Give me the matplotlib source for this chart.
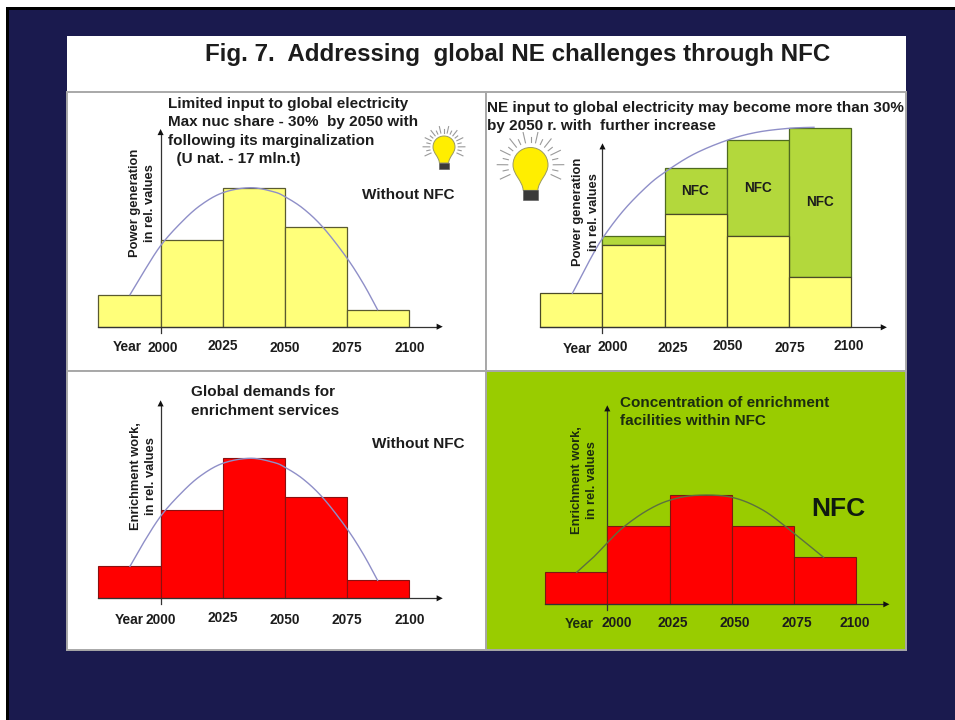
import numpy as np
import matplotlib
matplotlib.use("Agg")
import matplotlib.pyplot as plt
from matplotlib.patches import Rectangle, PathPatch, FancyArrowPatch
from matplotlib.path import Path
from matplotlib.transforms import Affine2D

plt.rcParams['font.family'] = ['Liberation Sans', 'DejaVu Sans']

# ---- data (relative values per 25-year period) ----
period_starts = [1975, 2000, 2025, 2050, 2075]
year_ticks = [2000, 2025, 2050, 2075, 2100]

power_without_nfc = [32, 87, 139, 100, 17]
power_base = [34, 82, 113, 91, 50]
power_total = [34, 91, 159, 187, 199]
enrich_without_nfc = [32, 88, 140, 101, 18]
enrich_nfc = [32, 78, 109, 78, 47]

trend1_years = [1987.7, 1993, 2000, 2007.8, 2015.8, 2025, 2036, 2045.3, 2050, 2057.4, 2065.4, 2074.8, 2081.5, 2087.2]
trend1_vals = [32, 54, 81, 103, 121, 134, 139, 135, 130, 118, 99, 69, 43, 17]
trend2_years = [1987.9, 1994.4, 2000, 2008.5, 2017.9, 2025, 2036.6, 2050, 2062, 2075, 2085]
trend2_vals = [34, 65, 89, 117, 141, 155, 173, 187, 195, 199, 200]
trend3_years = [1987.7, 1993, 2000, 2007.8, 2015.8, 2025, 2036, 2045.3, 2050, 2057.4, 2065.4, 2074.8, 2081.5, 2087.2]
trend3_vals = [32, 55, 82, 104, 122, 135, 140, 136, 131, 119, 100, 70, 44, 18]
trend4_years = [1987.7, 1994.4, 2000, 2006.4, 2015.8, 2025, 2036, 2050, 2062.7, 2075, 2086.9]
trend4_vals = [32, 47, 61.5, 77, 93.5, 104, 109, 107, 94, 71, 47]

W, H = 955, 720
NAVY, BLACK = '#1a1a4e', '#000000'
YELLOW, LEAF, RED, FIELD = '#ffff7a', '#b3d83c', '#ff0000', '#99cc00'
TEXT = '#1c1c1c'

fig = plt.figure(figsize=(W / 100, H / 100), dpi=100, facecolor='white')
# top-down pixel coordinates for the slide furniture
px = Affine2D().scale(1 / W, -1 / H).translate(0, 1) + fig.transFigure


def smooth(xs, ys, n=24):
    """Catmull-Rom pass through the given points, for a soft drawn curve."""
    p = np.column_stack([xs, ys]).astype(float)
    p = np.vstack([p[0], p, p[-1]])
    out = []
    for i in range(1, len(p) - 2):
        t = np.linspace(0, 1, n, endpoint=False)[:, None]
        a, b, c, d = p[i - 1], p[i], p[i + 1], p[i + 2]
        out.append(0.5 * (2 * b + (c - a) * t + (2 * a - 5 * b + 4 * c - d) * t ** 2
                          + (3 * b - a - 3 * c + d) * t ** 3))
    out.append(p[-2][None, :])
    return np.vstack(out)


def slide_rect(x0, y0, x1, y1, **kw):
    fig.add_artist(Rectangle((x0, y0), x1 - x0, y1 - y0, transform=px, zorder=-5, **kw))


def bulb(cx, cy, r):
    """Light bulb with a crown of rays, centred on the glass."""
    for k, a in enumerate(np.linspace(-205, 25, 19)):
        ar = np.radians(a)
        r0, r1 = (1.3, 1.9) if k % 2 == 0 else (1.3, 1.6)
        fig.add_artist(plt.Line2D([cx + r * r0 * np.cos(ar), cx + r * r1 * np.cos(ar)],
                                  [cy + r * r0 * np.sin(ar), cy + r * r1 * np.sin(ar)],
                                  transform=px, color='#9a9a9a', lw=0.8, zorder=10))
    verts = [(-1, 0), (-1, -0.56), (-0.56, -1), (0, -1), (0.56, -1), (1, -0.56), (1, 0),
             (1, 0.55), (0.45, 0.9), (0.42, 1.45), (-0.42, 1.45), (-0.45, 0.9), (-1, 0.55), (-1, 0)]
    codes = [Path.MOVETO] + [Path.CURVE4] * 6 + [Path.CURVE4] * 3 + [Path.LINETO] + [Path.CURVE4] * 3
    v = np.array(verts) * r + (cx, cy)
    fig.add_artist(PathPatch(Path(v, codes), transform=px, fc='#ffee00', ec='#9a9a60', lw=0.7, zorder=10))
    fig.add_artist(Rectangle((cx - 0.42 * r, cy + 1.45 * r), 0.84 * r, 0.55 * r,
                             transform=px, fc='#3a3a3a', ec='#555555', lw=0.4, zorder=10))


# ---- slide background ----
slide_rect(6, 7, W, H, fc=BLACK, ec='none')
slide_rect(9, 9.5, W, H, fc=NAVY, ec='none')
slide_rect(67, 36, 906, 650, fc='white', ec='none')
fig.text(517.5 / W, 1 - 54 / H, 'Fig. 7.  Addressing  global NE challenges through NFC',
         ha='center', va='center', fontsize=17.4, fontweight='bold', color=TEXT)


def panel(rect, x2000, y0, face):
    """One quadrant; x runs in years (25 years = 62.2 px), y in relative values (1 per px)."""
    x0, y_top, x1, y_bot = rect
    ax = fig.add_axes([x0 / W, 1 - y_bot / H, (x1 - x0) / W, (y_bot - y_top) / H], facecolor=face)
    ax.set_xlim(2000 + (x0 - x2000) / 2.488, 2000 + (x1 - x2000) / 2.488)
    ax.set_ylim(y0 - y_bot, y0 - y_top)
    ax.set_xticks([])
    ax.set_yticks([])
    for s in ax.spines.values():
        s.set_color('#a8a8a8')
        s.set_linewidth(1.4)
    return ax


def chart_axes(ax, x_tip, y_tip):
    ax.plot([1975, x_tip - 2], [0, 0], color='#333333', lw=0.9, zorder=4)
    ax.plot([2000, 2000], [-6, y_tip - 5], color='#333333', lw=0.9, zorder=1)
    for tail, tip in [((x_tip - 3.2, 0), (x_tip, 0)), ((2000, y_tip - 8), (2000, y_tip))]:
        ax.add_patch(FancyArrowPatch(tail, tip, arrowstyle='-|>', mutation_scale=11,
                                     color='#111111', lw=0, shrinkA=0, shrinkB=0, zorder=5))


def year_labels(ax, offsets, y_off):
    for yr, dx, dy in zip(year_ticks, offsets, y_off):
        ax.annotate(str(yr), (yr, 0), xytext=(dx, dy), textcoords='offset pixels',
                    ha='center', va='center', fontsize=9.9, fontweight='bold', color=TEXT)


def label(ax, xpix, ypix, s, **kw):
    kw.setdefault('fontsize', 10.95)
    kw.setdefault('fontweight', 'bold')
    kw.setdefault('color', TEXT)
    kw.setdefault('va', 'top')
    kw.setdefault('linespacing', 1.4)
    ax.text(xpix / W, 1 - ypix / H, s, transform=fig.transFigure, zorder=8, **kw)


CURVE = '#8f8fc8'

# ---- top left: power generation without NFC ----
ax1 = panel((67, 92, 486, 371), 160.6, 326.7, 'white')
ax1.bar(period_starts, power_without_nfc, width=25, align='edge', fc=YELLOW, ec='#5a5a30', lw=0.9, zorder=2)
chart_axes(ax1, 2113.4, 197.7)
c = smooth(trend1_years, trend1_vals)
ax1.plot(c[:, 0], c[:, 1], color=CURVE, lw=1.0, zorder=3)
year_labels(ax1, [2, 0, 0, 0, 0], [-21, -19, -21, -21, -21])
label(ax1, 167.5, 97, 'Limited input to global electricity\nMax nuc share - 30%  by 2050 with\nfollowing its marginalization\n  (U nat. - 17 mln.t)')
label(ax1, 362, 195, 'Without NFC', va='center')
label(ax1, 142.5, 203, 'Power generation\nin rel. values', rotation=90, ha='center', va='center',
      fontsize=9.3, linespacing=1.4)
label(ax1, 112.7, 347.5, 'Year', va='center', fontsize=9.9)

# ---- top right: power generation with NFC ----
ax2 = panel((486, 92, 906, 371), 602.5, 327.3, 'white')
ax2.bar(period_starts[1:], np.subtract(power_total, power_base)[1:], bottom=power_base[1:], width=25,
        align='edge', fc=LEAF, ec='#4f6a20', lw=0.9, zorder=2)
ax2.bar(period_starts, power_base, width=25, align='edge', fc=YELLOW, ec='#4a4a28', lw=0.9, zorder=2)
chart_axes(ax2, 2114.3, 184)
c = smooth(trend2_years, trend2_vals)
ax2.plot(c[:, 0], c[:, 1], color=CURVE, lw=1.0, zorder=3)
year_labels(ax2, [10, 8, 1, 1, -3], [-20, -21, -19, -21, -19])
for xp, yp in zip([695, 757.5, 819.5], [191, 188, 202.5]):
    label(ax2, xp, yp, 'NFC', ha='center', va='center', fontsize=9.8)
label(ax2, 487, 101, 'NE input to global electricity may become more than 30%\nby 2050 r. with  further increase')
label(ax2, 586, 212, 'Power generation\nin rel. values', rotation=90, ha='center', va='center',
      fontsize=9.3, linespacing=1.4)
label(ax2, 562.7, 349, 'Year', va='center', fontsize=9.9)

# ---- bottom left: enrichment demand without NFC ----
ax3 = panel((67, 371, 486, 650), 160.6, 598.3, 'white')
ax3.bar(period_starts, enrich_without_nfc, width=25, align='edge', fc=RED, ec='#8a1010', lw=0.8, zorder=2)
chart_axes(ax3, 2113.4, 198)
c = smooth(trend3_years, trend3_vals)
ax3.plot(c[:, 0], c[:, 1], color=CURVE, lw=1.0, zorder=3)
year_labels(ax3, [0, 0, 0, 0, 0], [-22, -20, -22, -22, -22])
label(ax3, 190.5, 385.5, 'Global demands for\nenrichment services')
label(ax3, 372, 444, 'Without NFC', va='center')
label(ax3, 143.5, 476, 'Enrichment work,\nin rel. values', rotation=90, ha='center', va='center',
      fontsize=9.3, linespacing=1.4)
label(ax3, 114.3, 620, 'Year', va='center', fontsize=9.9)

# ---- bottom right: enrichment concentrated within NFC ----
ax4 = panel((486, 371, 906, 650), 607.3, 604.3, FIELD)
ax4.bar(period_starts, enrich_nfc, width=25, align='edge', fc=RED, ec='#7a1a10', lw=0.8, zorder=2)
chart_axes(ax4, 2113.4, 199)
c = smooth(trend4_years, trend4_vals)
ax4.plot(c[:, 0], c[:, 1], color='#5c7040', lw=1.0, zorder=3)
year_labels(ax4, [9, 3, 3, 3, -1], [-19, -19, -19, -19, -19])
label(ax4, 620.5, 396, 'Concentration of enrichment\nfacilities within NFC', color='#1c2c10')
label(ax4, 838.5, 509, 'NFC', ha='center', va='center', fontsize=19, color='#101a10')
label(ax4, 584.5, 480, 'Enrichment work,\nin rel. values', rotation=90, ha='center', va='center',
      fontsize=9.3, linespacing=1.4, color='#1c2c10')
label(ax4, 564.3, 623.5, 'Year', va='center', fontsize=9.9, color='#1c2c10')

bulb(444, 147, 11)
bulb(530.5, 165, 17.5)

fig.savefig('out.png', dpi=100, facecolor='white')
